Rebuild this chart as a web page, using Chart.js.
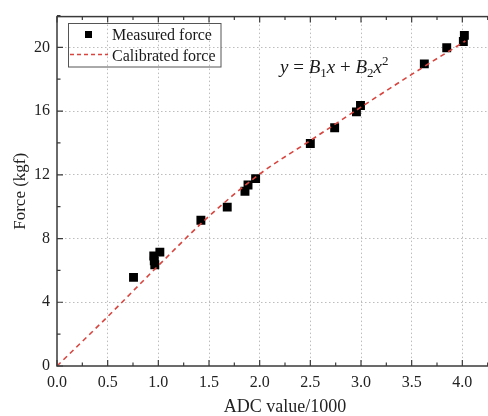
<!DOCTYPE html>
<html>
<head>
<meta charset="utf-8">
<script src="https://cdn.jsdelivr.net/npm/chart.js@4/dist/chart.umd.min.js"></script>
<style>
  html, body { margin: 0; padding: 0; background: #fff; overflow: hidden; }
  #wrap { width: 488px; height: 416px; overflow: hidden; }
</style>
</head>
<body>
<div id="wrap"><canvas id="myCanvas" width="530" height="416"></canvas></div>
<script>
// measured points (ADC value/1000, force in kgf)
var adcValues = [0.755, 0.955, 0.96, 0.965, 1.015, 1.42, 1.68, 1.855, 1.885, 1.96,
                 2.5, 2.74, 2.955, 2.995, 3.625, 3.846, 4.01, 4.02];
var forceValues = [5.56, 6.9, 6.6, 6.35, 7.15, 9.15, 9.97, 10.97, 11.36, 11.76,
                   13.97, 14.95, 15.95, 16.35, 18.96, 19.97, 20.37, 20.75];

// calibrated curve
var curveX = [0, 0.5, 1.0, 1.5, 2.0, 2.5, 3.0, 3.5, 4.03];
var curveY = [0, 3.1, 6.3, 9.4, 12.05, 14.15, 16.25, 18.3, 20.4];

var xTicks = ["0.0", "0.5", "1.0", "1.5", "2.0", "2.5", "3.0", "3.5", "4.0", "4.5"];
var yTicks = [0, 4, 8, 12, 16, 20];

var serif = "'Liberation Serif', 'Times New Roman', serif";
var axisColor = "#3a3a3a";
var red = "#d8453f";

function toPoints(xs, ys) {
  var pts = [];
  for (var i = 0; i < xs.length; i++) pts.push({ x: xs[i], y: ys[i] });
  return pts;
}

// frame, inward tick marks, legend box and equation
var decorations = {
  id: "decorations",
  afterDraw: function (chart) {
    var ctx = chart.ctx;
    var area = chart.chartArea;
    var xs = chart.scales.x;
    var ys = chart.scales.y;
    ctx.save();
    ctx.strokeStyle = axisColor;
    ctx.lineWidth = 1.5;
    ctx.setLineDash([]);
    ctx.strokeRect(area.left, area.top, area.right - area.left, area.bottom - area.top);

    ctx.lineWidth = 1.2;
    ctx.beginPath();
    for (var i = 0; i < xTicks.length; i++) {
      var v = parseFloat(xTicks[i]);
      var px = xs.getPixelForValue(v);
      ctx.moveTo(px, area.bottom); ctx.lineTo(px, area.bottom - 6);
      ctx.moveTo(px, area.top); ctx.lineTo(px, area.top + 6);
      var pm = xs.getPixelForValue(v + 0.25);
      ctx.moveTo(pm, area.bottom); ctx.lineTo(pm, area.bottom - 3.5);
      ctx.moveTo(pm, area.top); ctx.lineTo(pm, area.top + 3.5);
    }
    for (var j = 0; j < yTicks.length; j++) {
      var py = ys.getPixelForValue(yTicks[j]);
      ctx.moveTo(area.left, py); ctx.lineTo(area.left + 6, py);
      var pym = ys.getPixelForValue(yTicks[j] + 2);
      ctx.moveTo(area.left, pym); ctx.lineTo(area.left + 3.5, pym);
    }
    ctx.stroke();

    // legend
    ctx.lineWidth = 1;
    ctx.strokeStyle = "#555";
    ctx.strokeRect(68.5, 23.5, 152.5, 43.5);
    ctx.fillStyle = "#000";
    ctx.fillRect(85, 31, 7, 7);
    ctx.strokeStyle = red;
    ctx.lineWidth = 1.5;
    ctx.setLineDash([4, 3]);
    ctx.beginPath();
    ctx.moveTo(70, 54.5); ctx.lineTo(108, 54.5);
    ctx.stroke();
    ctx.setLineDash([]);
    ctx.fillStyle = "#1a1a1a";
    ctx.font = "16px " + serif;
    ctx.textBaseline = "alphabetic";
    ctx.textAlign = "left";
    ctx.fillText(chart.data.datasets[1].label, 112, 40);
    ctx.fillText(chart.data.datasets[0].label, 112, 60.5);

    // equation y = B1x + B2x^2
    var parts = [
      ["italic 19px ", "y", 0],
      ["19px ", " = ", 0],
      ["italic 19px ", "B", 0],
      ["13px ", "1", 4],
      ["italic 19px ", "x", 0],
      ["19px ", " + ", 0],
      ["italic 19px ", "B", 0],
      ["13px ", "2", 4],
      ["italic 19px ", "x", 0],
      ["13px ", "2", -8]
    ];
    var ex = 280, ey = 73;
    ctx.fillStyle = "#1a1a1a";
    for (var k = 0; k < parts.length; k++) {
      ctx.font = parts[k][0] + serif;
      ctx.fillText(parts[k][1], ex, ey + parts[k][2]);
      ex += ctx.measureText(parts[k][1]).width;
    }
    ctx.restore();
  }
};

var chart = new Chart(document.getElementById("myCanvas"), {
  data: {
    datasets: [
      {
        type: "line",
        label: "Calibrated force",
        data: toPoints(curveX, curveY),
        borderColor: red,
        borderWidth: 1.6,
        borderDash: [5, 4],
        pointRadius: 0,
        fill: false,
        cubicInterpolationMode: "monotone"
      },
      {
        type: "scatter",
        label: "Measured force",
        data: toPoints(adcValues, forceValues),
        pointStyle: "rect",
        pointRadius: 6.3,
        backgroundColor: "#000",
        borderColor: "#000",
        borderWidth: 0
      }
    ]
  },
  options: {
    responsive: false,
    animation: false,
    layout: { padding: { top: 14, right: 14, left: 0, bottom: 0 } },
    plugins: { legend: { display: false }, tooltip: { enabled: false } },
    scales: {
      x: {
        type: "linear",
        min: 0,
        max: 4.5,
        afterFit: function (scale) { scale.height = 50; },
        ticks: {
          stepSize: 0.5,
          includeBounds: false,
          padding: 7,
          color: "#222",
          font: { family: serif, size: 16 },
          callback: function (v) { return v.toFixed(1); }
        },
        grid: {
          drawTicks: false,
          lineWidth: 1,
          color: function (c) { return c.tick && c.tick.value === 0 ? "transparent" : "#bdbdbd"; }
        },
        border: { display: false, dash: [1.5, 2.5] },
        title: {
          display: true,
          text: "ADC value/1000",
          color: "#222",
          font: { family: serif, size: 18, lineHeight: 1 },
          padding: { top: 0, bottom: 0 }
        }
      },
      y: {
        type: "linear",
        min: 0,
        max: 21.93,
        afterFit: function (scale) { scale.width = 57; },
        ticks: {
          stepSize: 4,
          includeBounds: false,
          padding: 7,
          color: "#222",
          font: { family: serif, size: 16 }
        },
        grid: {
          drawTicks: false,
          lineWidth: 1,
          color: function (c) { return c.tick && c.tick.value === 0 ? "transparent" : "#bdbdbd"; }
        },
        border: { display: false, dash: [1.5, 2.5] },
        title: {
          display: true,
          text: "Force (kgf)",
          color: "#222",
          font: { family: serif, size: 17, lineHeight: 1 },
          padding: { top: 12, bottom: 0 }
        }
      }
    }
  },
  plugins: [decorations]
});
</script>
</body>
</html>
